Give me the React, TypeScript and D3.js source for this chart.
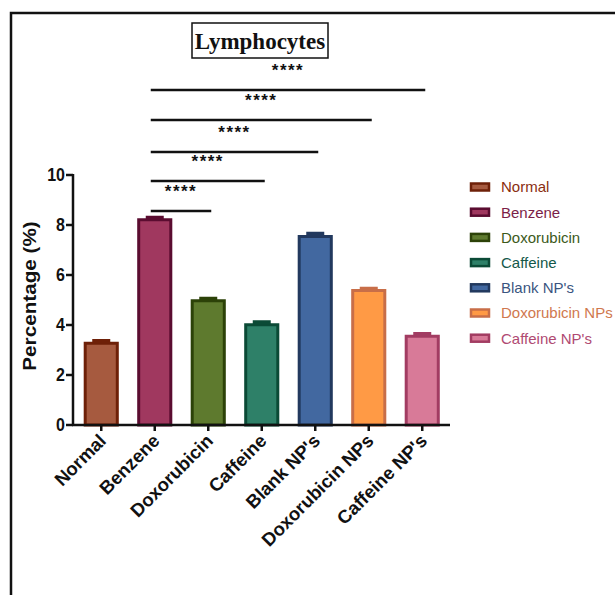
import React from "react";
import * as d3 from "d3";

const categories = ["Normal", "Benzene", "Doxorubicin", "Caffeine", "Blank NP's", "Doxorubicin NPs", "Caffeine NP's"];
const xLabels = ["Normal", "Benzene", "Doxorubicin", "Caffeine", "Blank NP's", "Doxorubicin NPs", "Caffeine NP's"];
const values = [3.27, 8.21, 4.97, 4.01, 7.54, 5.38, 3.55];
const errors = [0.17, 0.16, 0.16, 0.18, 0.19, 0.15, 0.17];
const fills = ["#A65A3F", "#A0385F", "#5E7A2E", "#2E8068", "#4268A0", "#FF9A45", "#D87A98"];
const strokes = ["#6E2008", "#5A0C30", "#2C4208", "#0B4A36", "#22395E", "#C86E48", "#A23C62"];
const legendText = ["#8A2E10", "#7B1E48", "#3C5A1A", "#14584A", "#3A5580", "#D0784E", "#B04A72"];
const yTicks = [0, 2, 4, 6, 8, 10];
const comparisons = ["Doxorubicin", "Caffeine", "Blank NP's", "Doxorubicin NPs", "Caffeine NP's"];
const compLabels = ["****", "****", "****", "****", "****"];
const title = "Lymphocytes";
const yTitle = "Percentage (%)";

export default function App() {
  const W = 615, H = 595;
  const x = d3.scaleBand<string>().domain(categories).range([74.5, 449]).paddingInner(0.4).paddingOuter(0.2);
  const y = d3.scaleLinear().domain([0, 10]).range([425, 175]);
  const cx = (c: string) => (x(c) as number) + x.bandwidth() / 2;
  const lineYs = [211, 181, 152, 120, 90];
  const font = "Arial, 'Liberation Sans', Helvetica, sans-serif";

  return (
    <svg width={W} height={H} style={{ position: "absolute", left: 0, top: 0, background: "#fff" }}>
      {/* frame */}
      <path d={`M11,${H} L11,13 L${W},13`} fill="none" stroke="#111" strokeWidth={2.5} />
      {/* title */}
      <rect x={192} y={23} width={136} height={35} fill="none" stroke="#111" strokeWidth={1.5} />
      <text x={260} y={49} textAnchor="middle" fontFamily="'Liberation Serif', 'Times New Roman', serif" fontWeight="bold" fontSize={23} fill="#111">{title}</text>

      {/* bars */}
      {categories.map((c, i) => (
        <g key={c}>
          <rect x={x(c) as number} y={y(values[i])} width={x.bandwidth()} height={y(0) - y(values[i])}
            fill={fills[i]} stroke={strokes[i]} strokeWidth={3} />
          <rect x={cx(c) - 9} y={y(values[i] + errors[i])} width={18} height={y(values[i]) - y(values[i] + errors[i])} fill={strokes[i]} />
        </g>
      ))}

      {/* y axis */}
      <line x1={73} x2={73} y1={y(10) - 1} y2={y(0) + 1} stroke="#111" strokeWidth={2.5} />
      {yTicks.map((t) => (
        <g key={t}>
          <line x1={66} x2={73} y1={y(t)} y2={y(t)} stroke="#111" strokeWidth={2.5} />
          <text transform={`translate(65,${y(t)}) scale(1,1.12)`} dy="0.36em" textAnchor="end" fontFamily={font} fontWeight="bold" fontSize={16} fill="#111">{t}</text>
        </g>
      ))}
      <text transform={`translate(36,296) scale(1,1.15) rotate(-90)`} textAnchor="middle" fontFamily={font} fontWeight="bold" fontSize={18} fill="#111">{yTitle}</text>

      {/* x axis */}
      <line x1={72} x2={450} y1={425} y2={425} stroke="#111" strokeWidth={2.5} />
      {categories.map((c, i) => (
        <g key={c}>
          <line x1={cx(c)} x2={cx(c)} y1={425} y2={431} stroke="#111" strokeWidth={2.5} />
          <text transform={`translate(${cx(c) + 6},${442}) rotate(-45)`} textAnchor="end" fontFamily={font} fontWeight="bold" fontSize={18.5} fill="#111">{xLabels[i]}</text>
        </g>
      ))}

      {/* significance */}
      {comparisons.map((c, i) => {
        const x1 = cx("Benzene") - 4;
        const x2 = cx(c) + 3;
        return (
          <g key={c}>
            <line x1={x1} x2={x2} y1={lineYs[i]} y2={lineYs[i]} stroke="#111" strokeWidth={2.5} />
            <text x={(x1 + x2) / 2} y={lineYs[i] - 14} textAnchor="middle" fontFamily={font} fontWeight="bold" fontSize={17} letterSpacing={1.5} fill="#111">{compLabels[i]}</text>
          </g>
        );
      })}

      {/* legend */}
      {categories.map((c, i) => {
        const ly = 187 + i * 25.2;
        return (
          <g key={c}>
            <rect x={471} y={ly - 3.5} width={18} height={7} fill={fills[i]} stroke={strokes[i]} strokeWidth={2.5} />
            <text x={501} y={ly} dy="0.36em" fontFamily={font} fontSize={15} fill={legendText[i]}>{c}</text>
          </g>
        );
      })}
    </svg>
  );
}
